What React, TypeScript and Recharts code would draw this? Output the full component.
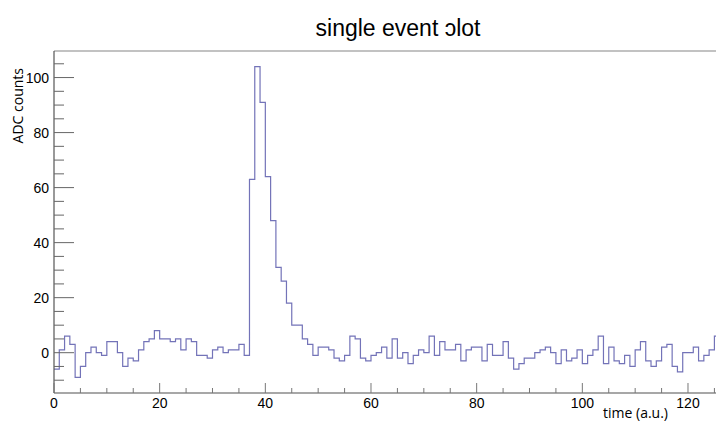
import { LineChart, Line, XAxis, YAxis } from 'recharts';

// ADC counts per time bin (bin width 1, bins 0..125)
const adcCounts = [
  -6, 1, 6, 3, -9, -5, 0, 2, 0, -1,
  4, 4, 0, -5, -2, -3, 1, 4, 5, 8,
  5, 5, 4, 5, 1, 5, 4, -1, -1, -2,
  1, 2, 0, 1, 1, 3, -1, 63, 104, 91,
  64, 48, 31, 26, 18, 10, 10, 5, 3, -1,
  2, 2, 1, -2, -3, -1, 6, 5, -2, -3,
  -1, 0, 2, -2, 5, -2, 0, -4, -1, 1,
  0, 6, -1, 4, 1, 1, 3, -3, 1, 2,
  2, -3, 3, -1, -1, 4, -2, -6, -4, -2,
  -2, 0, 1, 2, 0, -4, 1, -3, -2, 1,
  -4, -1, 1, 6, -4, 2, -3, -4, -1, -5,
  1, 4, -3, -5, -3, 2, 3, -5, -7, 0,
  0, 2, -3, -1, 1, 6,
];

const xDomain = [0, 125.3];
const yDomain = [-14.65, 109.65];
const xMajorTicks = [0, 20, 40, 60, 80, 100, 120];
const xMinorTicks = [5, 10, 15, 25, 30, 35, 45, 50, 55, 65, 70, 75, 85, 90, 95, 105, 110, 115, 125];
const yMajorTicks = [0, 20, 40, 60, 80, 100];
const yMinorTicks = [-10, -5, 5, 10, 15, 25, 30, 35, 45, 50, 55, 65, 70, 75, 85, 90, 95, 105];

// step rows: each bin starts at its index, last row closes the final bin
const rows = [
  ...adcCounts.map((adc, time) => ({ time, adc })),
  { time: adcCounts.length, adc: adcCounts[adcCounts.length - 1] },
];

const numFont = 'Liberation Sans, Arial, sans-serif';
const titleFont = 'Open Sans, sans-serif';
const TICK_GAP = 5;

// ROOT-style inward ticks: long with a label on majors, short on minors
function YTick(props: any) {
  const { x, y, payload } = props;
  const major = yMajorTicks.includes(payload.value);
  const x0 = x + TICK_GAP;
  return (
    <g>
      <line x1={x0} x2={x0 + (major ? 20 : 10)} y1={y} y2={y} stroke="#666" />
      {major && (
        <text x={x} y={y} dy="0.355em" textAnchor="end" fontFamily={numFont} fontSize={14} fill="#000">
          {payload.value}
        </text>
      )}
    </g>
  );
}

function XTick(props: any) {
  const { x, y, payload } = props;
  const major = xMajorTicks.includes(payload.value);
  const y0 = y - TICK_GAP;
  return (
    <g>
      <line x1={x} x2={x} y1={y0} y2={y0 - (major ? 10 : 5)} stroke="#777" />
      {major && (
        <text x={x} y={y} dy="0.71em" textAnchor="middle" fontFamily={numFont} fontSize={14} fill="#000">
          {payload.value}
        </text>
      )}
    </g>
  );
}

export default function App() {
  return (
    <div style={{ position: 'absolute', left: 0, top: 0, width: 716, height: 423, background: '#fff' }}>
      <LineChart width={716} height={423} data={rows} margin={{ top: 51, right: 0, bottom: 0, left: 0 }}>
        <XAxis
          xAxisId="lbl"
          dataKey="time"
          type="number"
          domain={xDomain}
          allowDataOverflow
          ticks={[...xMajorTicks, ...xMinorTicks]}
          interval={0}
          height={30}
          tickLine={false}
          tickSize={0}
          tickMargin={TICK_GAP}
          axisLine={{ stroke: '#8a8a8a', strokeWidth: 1.5 }}
          tick={XTick}
        />
        <XAxis
          xAxisId="top"
          orientation="top"
          dataKey="time"
          type="number"
          domain={xDomain}
          allowDataOverflow
          mirror
          tick={false}
          tickLine={false}
          axisLine={{ stroke: '#c2c2c2', strokeWidth: 2 }}
        />
        <YAxis
          yAxisId="lbl"
          type="number"
          domain={yDomain}
          allowDataOverflow
          ticks={[...yMajorTicks, ...yMinorTicks]}
          interval={0}
          width={54}
          tickLine={false}
          tickSize={0}
          tickMargin={TICK_GAP}
          axisLine={{ stroke: '#555', strokeWidth: 1.2 }}
          tick={YTick}
        />
        <Line
          xAxisId="lbl"
          yAxisId="lbl"
          type="stepAfter"
          dataKey="adc"
          stroke="#7373b8"
          strokeWidth={1.2}
          dot={false}
          activeDot={false}
          isAnimationActive={false}
        />
      </LineChart>
      <svg
        width={716}
        height={423}
        style={{ position: 'absolute', left: 0, top: 0, pointerEvents: 'none' }}
      >
        <text x={398} y={36} textAnchor="middle" fontFamily={numFont} fontSize={23}>
          single event ɔlot
        </text>
        <text transform="translate(23,68) rotate(-90)" textAnchor="end" fontFamily={titleFont} fontSize={14}>
          ADC counts
        </text>
        <text x={668} y={418} textAnchor="end" fontFamily={titleFont} fontSize={14}>
          time (a.u.)
        </text>
      </svg>
    </div>
  );
}
